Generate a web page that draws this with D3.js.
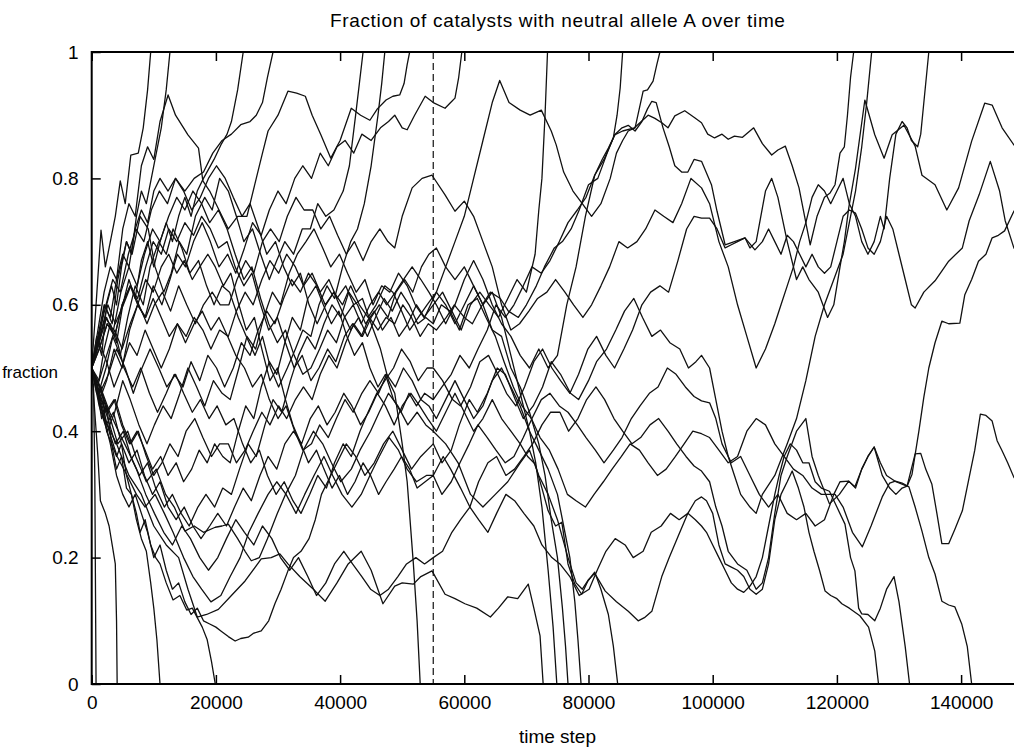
<!DOCTYPE html>
<html>
<head>
<meta charset="utf-8">
<script src="https://cdn.jsdelivr.net/npm/d3@7"></script>
<style>
  body { margin: 0; background: #fff; }
  svg { display: block; }
  text { font-family: "Liberation Sans", Arial, Helvetica, sans-serif; fill: #000; }
</style>
</head>
<body>
<svg id="chart" width="1014" height="747"></svg>
<script>
// Axis ticks and labels
const xTickValues = [0, 20000, 40000, 60000, 80000, 100000, 120000, 140000];
const yTickValues = [0, 0.2, 0.4, 0.6, 0.8, 1];
const yTickLabels = ["0", "0.2", "0.4", "0.6", "0.8", "1"];
const xDomain = [0, 150000];
const markerTime = 55000;           // dashed reference line
const STEP_UNIT = 1000;             // run times below are in thousands of steps

// Each run: [time (k steps), fraction of catalysts carrying allele A]
const run01 = [[0,.5],[.3,.47],[.5,.33],[.7,0]];
const run02 = [[0,.5],[.5,.43],[1,.36],[1.4,.29],[2.2,.27],[2.8,.25],[3.3,.22],[3.8,.19],[4,.1],[4.1,0]];
const run03 = [[0,.5],[.8,.46],[1.6,.47],[2.4,.4],[3.2,.38],[4,.34],[4.8,.36],[5.6,.31],[6.4,.3],[7.2,.26],[8,.23],[8.8,.21],[9.5,.16],[10,.12],[10.5,.07],[11,0]];
const run04 = [[0,.5],[.8,.47],[1.6,.42],[2.4,.44],[3.2,.38],[4,.36],[4.8,.38],[5.6,.33],[6.4,.3],[7.2,.27],[7.8,.24],[8.6,.26],[9.5,.22],[10.3,.2],[11,.19],[12,.16],[13.1,.133],[14.2,.14],[15.3,.117],[16.2,.12],[17,.105],[17.8,.09],[18.6,.07],[19.3,.035],[19.9,0]];
const run05 = [[0,.5],[.7,.6],[1.5,.718],[2.2,.66],[3,.7],[3.8,.74],[4.6,.796],[5.4,.76],[6.3,.837],[7.5,.84],[8.3,.88],[9,.94],[9.5,1]];
const run06 = [[0,.5],[.8,.55],[1.6,.52],[2.4,.6],[3.2,.63],[4,.6],[4.8,.66],[5.6,.7],[6.4,.68],[7.2,.74],[8,.78],[8.8,.76],[9.6,.8],[10.4,.84],[11.2,.88],[12,.94],[12.6,1]];
const run07 = [[0,.5],[1,.47],[2,.53],[3,.57],[4,.54],[5,.6],[6,.64],[7,.61],[8,.67],[9,.7],[10,.66],[11,.7],[12,.73],[13,.7],[14,.74],[15,.77],[16,.74],[17,.78],[18,.8],[19.7,.83],[20.8,.853],[21.8,.87],[22.5,.89],[23.5,.94],[24.4,1]];
const run08 = [[0,.5],[1,.55],[2,.6],[3,.58],[4,.64],[5,.68],[6,.66],[7,.72],[8,.75],[9,.73],[10,.78],[11,.8],[12.3,.78],[13.5,.8],[15,.78],[16.5,.8],[18,.81],[19.5,.84],[21,.86],[22.5,.87],[24,.885],[25.5,.89],[26.5,.9],[27.5,.92],[28.3,.96],[29.2,1]];
const run09 = [[0,.5],[1.2,.55],[2.1,.6],[3.3,.57],[4.2,.64],[5.6,.7],[6.5,.68],[7.8,.74],[9.1,.72],[10.2,.66],[11.6,.62],[12.8,.65],[14.1,.7],[15.3,.68],[16.7,.74],[18.2,.77],[19.4,.75],[20.6,.8],[22,.78],[23.3,.74],[24.5,.7],[25.9,.72],[27.2,.68],[28.6,.64],[29.8,.67],[31.1,.7],[32.5,.68],[33.9,.72],[35.2,.72],[36.4,.76],[37.7,.74],[39,.75],[40.5,.78],[41.5,.82],[42.5,.9],[43.1,.95],[43.7,1]];
const run10 = [[0,.5],[1.1,.46],[2.3,.5],[3.4,.55],[4.6,.52],[5.8,.58],[7,.63],[8.3,.6],[9.4,.66],[10.8,.7],[12,.68],[13.1,.72],[14.5,.69],[15.8,.65],[17.2,.67],[18.5,.63],[19.7,.6],[21,.63],[22.2,.62],[23.6,.58],[24.9,.55],[26.3,.52],[27.5,.55],[28.8,.5],[30.1,.47],[31.5,.5],[32.8,.53],[34,.56],[35.3,.55],[36.6,.6],[37.9,.63],[39.1,.61],[40.4,.66],[41.7,.7],[42.8,.72],[43.9,.76],[45,.82],[46.1,.9],[46.7,.95],[47.2,1]];
const run11 = [[0,.5],[1,.56],[2,.62],[3,.66],[4,.64],[5,.72],[6,.76],[7,.74],[8,.82],[9,.85],[10,.83],[11,.89],[12.3,.932],[13.5,.9],[15.5,.869],[17.2,.848],[17.9,.796],[19,.78],[20.5,.75],[22,.72],[23.5,.74],[25,.74],[26.5,.8],[27.5,.84],[28.4,.875],[30,.9],[31.6,.938],[33,.935],[34.4,.93],[35.5,.9],[36.9,.869],[38.5,.832],[40,.86],[41.8,.911],[43.3,.9],[44.8,.892],[46,.91],[47.4,.924],[48.5,.93],[49.6,.932],[50.3,.95],[50.8,.98],[51.2,1]];
const run12 = [[0,.5],[1.3,.45],[2.4,.48],[3.6,.53],[4.9,.5],[6.1,.56],[7.4,.6],[8.6,.58],[9.9,.63],[11.3,.6],[12.6,.64],[13.8,.68],[15.1,.66],[16.4,.7],[17.8,.73],[19.1,.7],[20.5,.66],[21.9,.68],[23.2,.65],[24.6,.69],[25.9,.73],[27.3,.71],[28.6,.75],[30,.78],[31.3,.76],[32.7,.8],[34,.82],[35.4,.8],[36.8,.84],[38.1,.82],[39.5,.85],[40.8,.86],[42.2,.84],[43.5,.87],[45,.86],[46.5,.88],[47.8,.89],[48.8,.9],[50,.88],[50.8,.877],[52,.9],[53.7,.93],[55,.92],[56.9,.911],[57.8,.92],[58.5,.927],[59.1,.96],[59.6,1]];
const run13 = [[0,.5],[1.2,.44],[2.5,.4],[3.7,.43],[5,.48],[6.2,.45],[7.6,.41],[8.9,.38],[10.1,.41],[11.5,.44],[12.8,.42],[14.2,.46],[15.5,.5],[16.9,.47],[18.2,.44],[19.6,.48],[21,.46],[22.3,.45],[23.7,.5],[25,.55],[26.4,.53],[27.7,.58],[29.1,.62],[30.4,.6],[31.8,.65],[33.1,.68],[34.5,.7],[35.8,.72],[37.2,.69],[38.5,.66],[39.9,.68],[41.2,.65],[42.6,.62],[44,.64],[45.3,.6],[46.7,.63],[48,.62],[49.4,.65],[50.8,.63],[52.1,.6],[53.5,.58],[55,.6],[56.5,.62],[58,.59],[59.5,.56],[61,.6],[62.5,.62],[64,.6],[65.5,.58],[67,.61],[68.5,.64],[70,.62],[71.4,.68],[72,.75],[72.5,.8],[73,.9],[73.4,1]];
const run14 = [[0,.5],[1.1,.54],[2.2,.58],[3.5,.56],[4.7,.62],[6,.66],[7.3,.63],[8.5,.68],[9.8,.72],[11,.7],[12.4,.74],[13.7,.77],[15,.75],[16.3,.78],[17.7,.76],[19,.73],[20.4,.75],[21.8,.72],[23.1,.68],[24.5,.64],[25.8,.66],[27.2,.61],[28.5,.57],[29.9,.54],[31.2,.56],[32.6,.52],[34,.49],[35.3,.5],[36.7,.53],[38,.56],[39.4,.54],[40.7,.58],[42.1,.6],[43.4,.57],[44.8,.6],[46.2,.62],[47.5,.6],[48.9,.62],[50.2,.64],[51.6,.66],[53,.64],[54.3,.62],[55.5,.6],[57,.57],[58.5,.6],[60,.64],[61.5,.67],[63,.64],[64.5,.6],[66,.57],[67.5,.55],[69,.52],[70.5,.5],[72,.53],[73.5,.5],[75,.52],[76.5,.6],[78,.66],[79.5,.74],[81,.805],[82.5,.83],[84,.864],[84.6,.9],[85.1,.943],[85.5,1]];
const run15 = [[0,.5],[1.3,.46],[2.6,.42],[3.8,.38],[5.1,.4],[6.3,.36],[7.7,.33],[9,.35],[10.3,.31],[11.7,.28],[13,.3],[14.4,.27],[15.7,.25],[17.1,.28],[18.4,.3],[19.8,.28],[21.1,.31],[22.5,.3],[23.8,.34],[25.2,.38],[26.5,.36],[27.9,.41],[29.2,.45],[30.6,.43],[32,.48],[33.3,.52],[34.7,.55],[36,.53],[37.4,.57],[38.7,.6],[40.1,.58],[41.4,.62],[42.8,.6],[44.1,.57],[45.5,.59],[46.8,.56],[48.2,.58],[49.5,.55],[50.9,.57],[52.3,.6],[53.6,.58],[55.5,.62],[57,.66],[58.5,.7],[60,.74],[61.5,.8],[63,.86],[64.5,.92],[65.7,.955],[67.2,.92],[69,.908],[70.6,.9],[72.4,.908],[74,.875],[74.8,.853],[76,.81],[77.5,.78],[79,.76],[80.5,.74],[82,.76],[83.5,.8],[84.5,.84],[85.5,.86],[86.4,.875],[87.5,.88],[88.8,.938],[89.5,.94],[90.4,.954],[91,.98],[91.5,1]];
const run16 = [[0,.5],[1.2,.54],[2.4,.51],[3.6,.47],[4.8,.5],[6.1,.54],[7.3,.52],[8.6,.56],[9.9,.53],[11.2,.5],[12.5,.53],[13.8,.57],[15.2,.55],[16.5,.58],[17.9,.56],[19.2,.53],[20.6,.56],[22,.55],[23.3,.59],[24.7,.62],[26,.6],[27.4,.64],[28.7,.67],[30.1,.65],[31.4,.68],[32.8,.66],[34.1,.63],[35.5,.65],[36.8,.62],[38.2,.64],[39.5,.61],[40.9,.63],[42.2,.6],[43.6,.61],[45,.57],[46.5,.53],[47.8,.48],[48.8,.46],[50,.38],[50.8,.32],[51.8,.19],[52.4,.1],[52.9,0]];
const run17 = [[0,.5],[2,.42],[4,.38],[6,.33],[8,.3],[10,.25],[12,.22],[14,.2],[15.5,.15],[17,.106],[18.5,.11],[20.4,.118],[22.5,.14],[24.7,.163],[27.3,.198],[28.9,.2],[30.3,.206],[31.6,.19],[33.5,.17],[36,.147],[37.6,.131],[39.5,.16],[41.3,.19],[43.4,.21],[45,.18],[46.9,.127],[48.8,.155],[50,.16],[51.8,.158],[53,.17],[54.8,.179],[56.9,.142],[58.5,.135],[60.1,.127],[62,.12],[64.2,.106],[65.5,.12],[67,.138],[68.6,.135],[70.3,.158],[71.2,.12],[72.2,.076],[72.7,0]];
const run18 = [[0,.5],[1.1,.55],[2.3,.6],[3.4,.64],[4.6,.62],[5.9,.68],[7.1,.72],[8.4,.7],[9.6,.75],[10.9,.78],[12.2,.76],[13.5,.8],[14.8,.78],[16.1,.75],[17.5,.77],[18.8,.8],[20.1,.82],[21.5,.8],[22.8,.77],[24.2,.74],[25.5,.76],[26.9,.72],[28.2,.68],[29.6,.7],[30.9,.66],[32.3,.63],[33.6,.65],[35,.6],[36.3,.57],[37.7,.6],[39,.62],[40.4,.6],[41.7,.63],[43.1,.6],[44.5,.58],[45.8,.6],[47.2,.63],[48.5,.62],[49.9,.59],[51.2,.56],[52.6,.58],[54,.6],[55.5,.62],[57,.6],[58.5,.57],[60,.6],[61.5,.63],[63,.6],[64.5,.62],[66,.58],[67.5,.52],[69,.46],[70.5,.4],[71.5,.35],[72.5,.28],[73.5,.18],[74.3,.09],[74.9,0]];
const run19 = [[0,.5],[1.3,.47],[2.5,.43],[3.8,.45],[5,.41],[6.3,.38],[7.5,.4],[8.8,.36],[10,.33],[11.3,.35],[12.6,.38],[13.9,.36],[15.2,.4],[16.6,.42],[17.9,.39],[19.3,.36],[20.6,.38],[22,.38],[23.3,.35],[24.7,.37],[26,.4],[27.4,.43],[28.7,.41],[30.1,.44],[31.4,.42],[32.8,.45],[34.1,.47],[35.5,.45],[36.8,.49],[38.2,.52],[39.5,.5],[40.9,.54],[42.2,.57],[43.6,.55],[45,.58],[46.3,.6],[47.7,.58],[49,.62],[50.4,.64],[51.7,.62],[53.1,.66],[54.3,.68],[55.5,.69],[57,.66],[58.5,.64],[60,.66],[61.5,.63],[63,.6],[64.5,.56],[66,.55],[67.5,.5],[69,.47],[70.5,.43],[72,.38],[73,.33],[74,.26],[75,.2],[75.8,.12],[76.3,.06],[76.7,0]];
const run20 = [[0,.5],[1.2,.48],[2.4,.52],[3.7,.56],[4.9,.53],[6.2,.57],[7.4,.6],[8.7,.58],[9.9,.61],[11.2,.58],[12.5,.55],[13.8,.57],[15.1,.54],[16.5,.57],[17.8,.59],[19.2,.56],[20.5,.58],[21.9,.55],[23.2,.52],[24.6,.5],[25.9,.47],[27.3,.49],[28.6,.45],[30,.42],[31.3,.44],[32.7,.4],[34,.37],[35.4,.38],[36.7,.41],[38.1,.39],[39.4,.42],[40.8,.45],[42.1,.43],[43.5,.46],[44.8,.48],[46.2,.46],[47.5,.49],[48.9,.47],[50.2,.5],[51.6,.48],[53,.45],[54.3,.44],[55.5,.42],[57,.45],[58.5,.48],[60,.45],[61.5,.42],[63,.44],[64.5,.48],[66,.5],[67.5,.47],[69,.44],[70.5,.4],[72,.37],[73.5,.34],[75,.3],[76,.25],[77,.2],[77.8,.13],[78.3,.07],[78.8,0]];
const run21 = [[0,.5],[1.1,.45],[2.3,.41],[3.5,.43],[4.8,.38],[6,.35],[7.3,.37],[8.5,.33],[9.8,.3],[11,.32],[12.3,.28],[13.6,.26],[14.9,.28],[16.3,.25],[17.6,.23],[19,.25],[20.3,.27],[21.7,.25],[23,.28],[24.4,.31],[25.7,.29],[27.1,.33],[28.4,.36],[29.8,.34],[31.1,.38],[32.5,.4],[33.8,.38],[35.2,.42],[36.5,.44],[37.9,.41],[39.2,.43],[40.6,.46],[41.9,.44],[43.3,.41],[44.6,.43],[46,.46],[47.3,.44],[48.7,.41],[50,.44],[51.4,.46],[52.8,.44],[54.1,.42],[55.5,.4],[57,.43],[58.5,.46],[60,.43],[61.5,.4],[63,.42],[64.5,.45],[66,.42],[67.5,.4],[69,.38],[70.2,.36],[71.4,.348],[72.5,.31],[73.5,.274],[74.7,.25],[75.7,.256],[76.7,.19],[77.8,.158],[78.9,.142],[79.9,.163],[81,.177],[82,.15],[83.2,.11],[84,.06],[84.7,0]];
const run22 = [[0,.5],[1.2,.53],[2.5,.57],[3.7,.55],[4.9,.6],[6.2,.63],[7.4,.61],[8.7,.66],[9.9,.7],[11.2,.68],[12.4,.72],[13.7,.7],[15,.73],[16.4,.71],[17.7,.74],[19.1,.72],[20.4,.69],[21.8,.7],[23.1,.66],[24.5,.63],[25.8,.65],[27.2,.6],[28.5,.56],[29.9,.58],[31.2,.54],[32.6,.5],[33.9,.52],[35.3,.48],[36.6,.5],[38,.53],[39.3,.51],[40.7,.55],[42,.57],[43.4,.55],[44.7,.58],[46.1,.56],[47.4,.58],[48.8,.57],[50.1,.6],[51.5,.58],[52.9,.55],[54.2,.57],[55.5,.56],[57.1,.58],[58.4,.6],[60,.58],[61.3,.57],[62.9,.6],[64.2,.62],[65.8,.61],[67.1,.59],[68.7,.58],[70,.6],[71.6,.63],[72.9,.66],[74.5,.69],[75.8,.7],[77.2,.72],[78.5,.75],[80,.79],[81.5,.8],[83,.84],[84.2,.869],[85.5,.875],[87.4,.88],[88.5,.89],[89.6,.9],[90.7,.895],[91.8,.888],[92.8,.88],[93.9,.899],[95.5,.907],[97.1,.896],[98.2,.888],[99.2,.87],[100.3,.864],[101.5,.87],[102.5,.862],[103.5,.867],[104.8,.865],[106.6,.88],[108,.855],[109.5,.837],[110.5,.845],[111.7,.851],[112.8,.82],[113.9,.785],[114.8,.74],[115.7,.695],[116.8,.74],[118,.77],[118.9,.777],[119.7,.79],[120.5,.84],[121.2,.85],[121.7,.9],[122.2,.96],[122.7,1]];
const run23 = [[0,.5],[1,.46],[2,.42],[3,.38],[4,.33],[5,.3],[6,.28],[7,.3],[8,.27],[9,.24],[10,.2],[11,.22],[12,.18],[13,.15],[14,.16],[15,.13],[16,.11],[17,.12],[18,.1],[19,.095],[20,.09],[20.8,.084],[22,.075],[23.1,.068],[24,.072],[25.2,.074],[26,.08],[27.3,.084],[28.5,.1],[29.5,.127],[30.5,.15],[31.6,.179],[32.5,.2],[33.7,.21],[35,.23],[36,.26],[37,.3],[38,.32],[39.5,.35],[41,.38],[42.5,.36],[44,.33],[45.5,.35],[47,.38],[48.5,.4],[50,.37],[51.5,.34],[53,.36],[55,.38],[56.4,.35],[57.9,.37],[59.2,.41],[60.8,.45],[62.1,.43],[63.7,.46],[65.3,.5],[66.6,.49],[68.2,.45],[69.5,.42],[71.1,.44],[72.6,.47],[74,.51],[75.5,.49],[77.1,.46],[78.4,.45],[80,.48],[81.3,.51],[82.9,.53],[84.4,.56],[85.8,.59],[87.3,.61],[88.7,.58],[90.2,.55],[91.6,.56],[93.1,.54],[94.7,.53],[96.1,.5],[97.3,.51],[98.2,.52],[99.5,.5],[100.5,.45],[101.5,.4],[102.5,.36],[103.5,.33],[104.5,.3],[106,.28],[107,.27],[108,.3],[110,.33],[112,.38],[113.5,.42],[115,.48],[116.5,.55],[118,.6],[119.5,.64],[121,.68],[122,.73],[123,.78],[124,.85],[124.8,.92],[125.6,1]];
const run24 = [[0,.5],[1.3,.55],[2.6,.6],[3.8,.57],[5.1,.6],[6.3,.63],[7.6,.6],[8.9,.57],[10.1,.6],[11.4,.62],[12.7,.59],[14,.63],[15.3,.6],[16.7,.57],[18,.6],[19.4,.62],[20.7,.6],[22.1,.6],[23.4,.64],[24.8,.67],[26.1,.65],[27.5,.7],[28.8,.72],[30.2,.7],[31.5,.74],[32.9,.77],[34.2,.75],[35.6,.75],[36.9,.72],[38.3,.74],[39.6,.71],[41,.68],[42.3,.7],[43.7,.67],[45,.7],[46.4,.72],[47.7,.7],[48.8,.69],[50,.74],[51.6,.785],[53.2,.8],[54.8,.805],[56.9,.774],[58.5,.748],[60,.764],[61.5,.74],[63,.7],[64.5,.66],[66,.6],[67.5,.56],[68.9,.57],[70.4,.59],[71.8,.61],[73.3,.62],[74.7,.64],[76.2,.62],[77.6,.6],[79.1,.58],[80.5,.6],[82,.63],[83.4,.66],[84.9,.7],[86.3,.69],[87.8,.7],[89.2,.72],[90.7,.75],[92.1,.74],[93.6,.73],[95,.76],[96.5,.8],[98.2,.785],[99.5,.76],[101,.7],[102.5,.66],[104,.6],[105.5,.55],[107,.5],[108.5,.53],[110,.57],[111,.6],[112,.63],[113,.66],[114,.7],[115,.73],[116,.77],[117,.79],[118,.78],[119,.76],[120,.78],[121,.8],[122,.76],[123,.74],[124,.7],[125,.68],[126,.7],[127,.74],[127.6,.72],[128.5,.8],[129.5,.87],[130.5,.89],[131.3,.88],[132,.86],[133,.85],[133.5,.87],[134,.92],[134.5,.97],[134.8,1]];
const run25 = [[0,.5],[1.3,.47],[2.7,.43],[4.2,.38],[5.8,.4],[7.1,.36],[8.8,.32],[10.4,.34],[11.9,.3],[13.3,.28],[15,.242],[16.5,.25],[18,.24],[19.9,.248],[21,.25],[22,.253],[23.5,.23],[24.7,.21],[25.7,.195],[27,.2],[28.3,.23],[29.9,.27],[31.2,.3],[32.8,.33],[34.1,.37],[35.7,.4],[37.2,.38],[38.6,.35],[40.1,.32],[41.8,.34],[43.2,.37],[44.9,.4],[46.3,.43],[47.8,.46],[49.3,.44],[50.9,.41],[52.4,.43],[53.8,.41],[55,.4],[57,.38],[59,.35],[61,.3],[63,.28],[65,.3],[67,.32],[69,.35],[70.5,.37],[72,.33],[73.5,.3],[75,.26],[76.7,.2],[78,.16],[79,.15],[80,.165],[81,.175],[82.7,.147],[84.5,.13],[86.4,.115],[88,.1],[89,.105],[90.2,.115],[91.8,.17],[93,.2],[94.4,.233],[96,.27],[97.2,.29],[98.2,.296],[99,.29],[100,.27],[101,.22],[102,.19],[103,.185],[104,.18],[105,.17],[106,.15],[107,.142],[108,.15],[109,.19],[110,.26],[111,.3],[112,.32],[112.8,.337],[113.8,.31],[114.7,.28],[115.5,.24],[116.3,.21],[117.2,.18],[118.1,.147],[119,.14],[120,.135],[120.8,.127],[122,.12],[123.7,.108],[125.1,.09],[126.1,.052],[126.7,0]];
const run26 = [[0,.5],[1.4,.45],[2.8,.4],[4.1,.36],[5.7,.33],[7.2,.3],[8.6,.28],[10.2,.3],[11.7,.27],[13.1,.24],[14.8,.2],[16.3,.17],[17.7,.15],[19.2,.13],[20.8,.14],[22.3,.17],[23.9,.2],[25.3,.24],[26.8,.27],[28.4,.3],[29.8,.32],[31.3,.3],[32.9,.27],[34.3,.3],[35.8,.33],[37.4,.36],[38.8,.33],[40.3,.3],[41.9,.28],[43.4,.3],[44.8,.33],[46.3,.36],[47.9,.39],[49.4,.37],[50.8,.34],[52.3,.32],[53.9,.33],[55,.33],[56.6,.36],[57.8,.34],[59.4,.31],[60.9,.28],[62.3,.26],[63.8,.24],[65.2,.27],[66.7,.3],[68.1,.29],[69.6,.27],[71.2,.25],[72.5,.22],[74.1,.2],[75.4,.19],[77,.17],[78.5,.14],[80.1,.15],[81.4,.18],[82.8,.21],[84.3,.23],[85.9,.22],[87.2,.2],[88.8,.21],[90.1,.24],[91.7,.25],[93.2,.27],[94.6,.26],[96,.27],[97.2,.26],[98.2,.25],[99,.24],[100,.22],[101,.2],[102,.18],[103,.16],[104,.15],[105,.145],[106,.155],[107,.17],[108,.2],[109,.25],[110,.3],[110.7,.33],[111.5,.36],[112.5,.38],[113.5,.37],[114.5,.35],[115.5,.35],[116.5,.32],[117.5,.31],[118.8,.305],[120,.28],[121.3,.253],[122.2,.2],[122.9,.179],[123.5,.12],[124,.111],[125,.11],[126.1,.1],[127,.12],[128,.15],[129.2,.17],[130,.13],[131,.059],[131.7,0]];
const run27 = [[0,.5],[1.2,.53],[2.5,.57],[3.9,.55],[5.2,.5],[6.6,.47],[7.9,.5],[9.3,.46],[10.6,.43],[12,.46],[13.3,.49],[14.7,.47],[16,.51],[17.4,.48],[18.7,.52],[20.1,.5],[21.4,.47],[22.8,.5],[24.1,.54],[25.5,.52],[26.8,.56],[28.2,.59],[29.5,.57],[30.9,.61],[32.2,.64],[33.6,.62],[34.9,.65],[36.3,.63],[37.6,.6],[39,.62],[40.3,.59],[41.7,.56],[43,.58],[44.4,.55],[45.7,.58],[47.1,.61],[48.4,.59],[49.8,.62],[51.1,.6],[52.5,.57],[53.8,.58],[55,.57],[56.3,.6],[57.7,.59],[59.2,.56],[60.6,.6],[62.1,.61],[63.5,.58],[65,.55],[66.4,.51],[67.9,.47],[69.3,.44],[70.8,.42],[72.2,.39],[73.7,.37],[75.1,.34],[76.6,.3],[78,.29],[79.5,.28],[80.9,.3],[82.4,.32],[83.8,.34],[85.3,.36],[86.7,.38],[88.2,.37],[89.6,.35],[91.1,.33],[92.5,.34],[94,.36],[95.4,.38],[96.8,.4],[98.2,.396],[99.5,.39],[101,.37],[102.5,.35],[104,.36],[105.5,.4],[107,.42],[108.5,.41],[110,.38],[111.5,.36],[113,.34],[114.5,.33],[116,.31],[117.5,.3],[118.5,.3],[119.7,.3],[121,.28],[122.5,.24],[124.1,.217],[125.5,.25],[127.3,.296],[128.5,.318],[129.4,.321],[130.5,.318],[131.6,.312],[132.6,.28],[133.7,.242],[134.8,.2],[135.8,.174],[136.9,.131],[138,.125],[139,.122],[140.1,.095],[141,.059],[141.7,0]];
const run28 = [[0,.5],[1.3,.46],[2.7,.49],[4,.53],[5.4,.5],[6.7,.46],[8.1,.5],[9.4,.53],[10.8,.5],[12.1,.47],[13.5,.49],[14.8,.46],[16.2,.43],[17.5,.45],[18.9,.42],[20.2,.44],[21.6,.41],[22.9,.42],[24.3,.38],[25.6,.35],[27,.37],[28.3,.33],[29.7,.3],[31,.32],[32.4,.29],[33.7,.27],[35.1,.3],[36.4,.33],[37.8,.31],[39.1,.35],[40.5,.38],[41.8,.36],[43.2,.4],[44.5,.43],[45.9,.46],[47.2,.48],[48.6,.5],[49.9,.53],[51.3,.51],[52.6,.48],[54,.5],[55,.5],[56.5,.48],[58.1,.45],[59.4,.44],[61,.47],[62.5,.51],[63.9,.52],[65.4,.49],[66.8,.46],[68.3,.44],[69.7,.47],[71.2,.51],[72.6,.53],[74.1,.5],[75.5,.48],[77,.46],[78.4,.49],[79.9,.53],[81.3,.55],[82.8,.52],[84.2,.5],[85.7,.53],[87.1,.56],[88.6,.6],[90,.62],[91.5,.63],[92.9,.62],[94.4,.67],[95.8,.72],[97,.74],[98.2,.737],[99.5,.737],[100.7,.72],[102,.69],[103,.695],[104,.7],[105.2,.706],[106,.69],[107,.7],[108.5,.78],[109.5,.8],[110.5,.77],[112,.7],[113.5,.64],[114.5,.66],[115.5,.64],[117,.62],[118.5,.58],[119.5,.6],[120.5,.66],[121.2,.7],[121.9,.753],[123,.816],[124.5,.924],[126.1,.869],[127.6,.832],[128.9,.869],[130.8,.884],[132.6,.851],[133.7,.805],[135.8,.79],[137.7,.75],[139.6,.785],[141.7,.859],[143.8,.919],[145,.916],[146.6,.88],[148.5,.853],[150,.84]];
const run29 = [[0,.5],[1.2,.54],[2.4,.58],[3.7,.55],[4.9,.6],[6.2,.63],[7.4,.6],[8.7,.64],[9.9,.62],[11.2,.66],[12.4,.68],[13.7,.65],[14.9,.67],[16.2,.64],[17.4,.66],[18.7,.68],[19.9,.66],[21.2,.63],[22.4,.65],[23.7,.6],[24.9,.56],[26.2,.58],[27.4,.53],[28.7,.48],[29.9,.5],[31.2,.45],[32.4,.41],[33.7,.38],[34.9,.35],[36.2,.37],[37.4,.34],[38.7,.31],[39.9,.33],[41.2,.3],[42.4,.32],[43.7,.35],[44.9,.33],[46.2,.3],[47.4,.32],[48.7,.34],[49.9,.36],[51.2,.34],[52.4,.31],[53.7,.32],[55,.33],[56.4,.3],[57.9,.32],[59.3,.35],[60.8,.38],[62.2,.41],[63.7,.39],[65.1,.37],[66.6,.35],[68,.36],[69.5,.39],[70.9,.42],[72.4,.45],[73.8,.46],[75.3,.44],[76.7,.43],[78.2,.41],[79.6,.39],[81.1,.37],[82.5,.35],[84,.37],[85.4,.39],[86.9,.42],[88.3,.44],[89.8,.46],[91.2,.47],[92.7,.5],[94.1,.49],[95.6,.47],[97,.455],[98.2,.448],[99.5,.445],[100.5,.42],[101.5,.38],[103,.35],[104.5,.36],[106,.33],[107.5,.3],[109,.28],[110.5,.3],[112,.27],[113.5,.26],[115,.27],[116.5,.25],[118,.26],[119.5,.3],[120.5,.32],[121.9,.321],[123,.31],[124,.34],[125,.36],[126,.375],[127,.35],[128,.33],[129.5,.32],[131.3,.313],[132.1,.332],[133.2,.4],[134,.454],[134.8,.5],[135.8,.54],[136.9,.574],[138,.57],[139.8,.571],[140.6,.616],[141.7,.64],[142.8,.669],[144,.68],[145,.706],[146,.71],[147,.717],[148.5,.748],[150,.77]];
const run30 = [[0,.5],[1.1,.46],[2.3,.43],[3.6,.45],[4.8,.41],[6.1,.38],[7.3,.4],[8.6,.37],[9.8,.34],[11.1,.36],[12.3,.33],[13.6,.35],[14.8,.32],[16.1,.34],[17.3,.37],[18.6,.35],[19.8,.38],[21.1,.36],[22.3,.35],[23.6,.4],[24.8,.44],[26.1,.42],[27.3,.47],[28.6,.51],[29.8,.49],[31.1,.54],[32.3,.58],[33.6,.56],[34.8,.61],[36.1,.63],[37.3,.6],[38.6,.57],[39.8,.59],[41.1,.55],[42.3,.52],[43.6,.54],[44.8,.5],[46.1,.47],[47.3,.49],[48.6,.45],[49.8,.43],[51.1,.46],[52.3,.44],[53.6,.46],[55,.45],[56.4,.47],[57.9,.49],[59.3,.52],[60.8,.5],[62.2,.53],[63.7,.56],[65.1,.6],[66.6,.58],[68,.6],[69.5,.63],[70.9,.66],[72.4,.65],[73.8,.67],[75.3,.7],[76.7,.73],[78.2,.75],[79.6,.77],[81,.805],[82.2,.83],[83.2,.848],[84.3,.87],[85.4,.88],[86.4,.884],[87.5,.875],[88.6,.89],[89.5,.91],[90.2,.922],[90.9,.92],[92,.88],[93,.85],[93.9,.82],[95,.81],[96,.81],[97,.83],[98.2,.827],[99.8,.79],[100.7,.748],[102,.695],[103.5,.7],[105.2,.706],[106.8,.687],[108,.7],[109,.72],[110,.7],[111,.68],[112,.71],[113,.7],[114,.68],[115,.66],[116,.68],[117,.66],[118,.65],[119,.66],[120,.7],[121,.74],[122,.75],[123,.745],[124,.72],[125,.69],[126,.68],[127,.7],[128,.74],[129,.72],[130,.68],[131,.64],[132,.6],[132.6,.595],[134,.62],[135.8,.638],[137,.655],[138,.669],[140.2,.69],[141.3,.733],[142.9,.774],[144.7,.827],[146.2,.78],[147.1,.733],[148.5,.69],[150,.67]];
const run31 = [[0,.5],[1.4,.47],[2.9,.43],[4.3,.4],[5.8,.37],[7.2,.34],[8.7,.3],[10.1,.27],[11.6,.24],[13,.22],[14.5,.25],[15.9,.23],[17.4,.2],[18.8,.18],[20.3,.2],[21.7,.23],[23.2,.26],[24.6,.24],[26.1,.22],[27.5,.25],[29,.23],[30.4,.2],[31.9,.18],[33.3,.2],[34.8,.17],[36.2,.14],[37.7,.16],[39.1,.19],[40.6,.21],[42,.19],[43.5,.17],[44.9,.15],[46.4,.14],[47.8,.15],[49.3,.17],[50.7,.19],[52.2,.2],[53.6,.19],[55,.2],[56.5,.21],[58,.24],[59.4,.26],[60.9,.28],[62.3,.32],[63.8,.35],[65.2,.36],[66.7,.33],[68.1,.34],[69.6,.36],[71,.38],[72.5,.41],[73.9,.43],[75.4,.43],[76.8,.4],[78.3,.42],[79.7,.45],[81.2,.47],[82.6,.45],[84.1,.42],[85.5,.4],[87,.38],[88.4,.39],[89.9,.41],[91.3,.42],[92.8,.4],[94.2,.38],[95.7,.36],[97,.345],[98.2,.337],[99.5,.32],[100.5,.28],[101.5,.25],[102.5,.21],[104,.19],[105.5,.18],[107,.15],[108,.16],[109,.2],[110,.27],[111,.33],[112,.36],[113.5,.4],[115,.42],[116,.36],[117,.33],[118.8,.285],[120.4,.3],[121.9,.321],[122.9,.312],[124,.34],[125,.36],[126,.375],[127.3,.33],[128.5,.31],[129.5,.3],[130.5,.31],[131.3,.313],[132.6,.364],[133.5,.365],[134.3,.34],[135.3,.316],[136.1,.27],[136.9,.222],[138,.222],[139,.245],[140.2,.274],[141.3,.327],[142.2,.37],[143.1,.427],[144,.425],[145,.416],[145.8,.385],[146.6,.369],[147.5,.35],[148.5,.327],[150,.31]];

const runs = [run01, run02, run03, run04, run05, run06, run07, run08, run09, run10,
              run11, run12, run13, run14, run15, run16, run17, run18, run19, run20,
              run21, run22, run23, run24, run25, run26, run27, run28, run29, run30, run31];

const svg = d3.select("#chart");
const plot = { left: 91.7, right: 1023.2, top: 52, bottom: 684 };

const x = d3.scaleLinear().domain(xDomain).range([plot.left, plot.right]);
const y = d3.scaleLinear().domain([0, 1]).range([plot.bottom, plot.top]);

svg.append("defs").append("clipPath").attr("id", "plot-clip")
  .append("rect")
  .attr("x", plot.left).attr("y", plot.top)
  .attr("width", plot.right - plot.left).attr("height", plot.bottom - plot.top);

// Trajectories
const line = d3.line()
  .x(d => x(d[0] * STEP_UNIT))
  .y(d => y(d[1]));

svg.append("g").attr("clip-path", "url(#plot-clip)")
  .selectAll("path.run")
  .data(runs)
  .join("path")
  .attr("class", "run")
  .attr("d", line)
  .attr("fill", "none")
  .attr("stroke", "#111")
  .attr("stroke-width", 1.3)
  .attr("stroke-linejoin", "round");

// Dashed marker
svg.append("line")
  .attr("x1", x(markerTime)).attr("x2", x(markerTime))
  .attr("y1", y(1)).attr("y2", y(0))
  .attr("stroke", "#111").attr("stroke-width", 1.2)
  .attr("stroke-dasharray", "7,4");

// Axes: ticks point inward on all four sides
const tickLen = 9;
const styleAxis = g => {
  g.select(".domain").remove();
  g.selectAll(".tick line").attr("stroke", "#000").attr("stroke-width", 1.5);
  g.selectAll(".tick text").attr("font-size", 19).attr("fill", "#000")
    .attr("font-family", "\"Liberation Sans\", Arial, sans-serif");
};

svg.append("g")
  .attr("transform", `translate(0,${plot.bottom})`)
  .call(d3.axisBottom(x).tickValues(xTickValues).tickFormat(d3.format("d"))
        .tickSize(-tickLen).tickPadding(12))
  .call(styleAxis);

svg.append("g")
  .attr("transform", `translate(0,${plot.top})`)
  .call(d3.axisTop(x).tickValues(xTickValues).tickFormat("").tickSize(-tickLen))
  .call(styleAxis);

svg.append("g")
  .attr("transform", `translate(${plot.left},0)`)
  .call(d3.axisLeft(y).tickValues(yTickValues)
        .tickFormat((d, i) => yTickLabels[i]).tickSize(-tickLen).tickPadding(13))
  .call(styleAxis);

svg.append("g")
  .attr("transform", `translate(${plot.right},0)`)
  .call(d3.axisRight(y).tickValues(yTickValues).tickFormat("").tickSize(-tickLen))
  .call(styleAxis);

// Frame
svg.append("rect")
  .attr("x", plot.left).attr("y", plot.top)
  .attr("width", plot.right - plot.left).attr("height", plot.bottom - plot.top)
  .attr("fill", "none").attr("stroke", "#000").attr("stroke-width", 2);

// Titles
svg.append("text")
  .attr("x", (plot.left + plot.right) / 2).attr("y", 27)
  .attr("text-anchor", "middle").attr("font-size", 19)
  .attr("textLength", 455).attr("lengthAdjust", "spacing")
  .text("Fraction of catalysts with neutral allele A over time");

svg.append("text")
  .attr("x", (plot.left + plot.right) / 2).attr("y", 743)
  .attr("text-anchor", "middle").attr("font-size", 19)
  .text("time step");

svg.append("text")
  .attr("x", 30).attr("y", 378)
  .attr("text-anchor", "middle").attr("font-size", 17)
  .text("fraction");
</script>
</body>
</html>
